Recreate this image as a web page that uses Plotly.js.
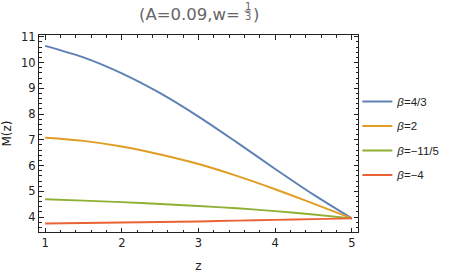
<!DOCTYPE html>
<html><head><meta charset="utf-8">
<script src="https://cdn.plot.ly/plotly-3.0.1.min.js"></script>
<style>html,body{margin:0;padding:0;background:#fff}</style>
</head><body><div id="chart" style="width:451px;height:274px"></div>
<script>
const z = [1, 1.5, 2, 2.5, 3, 3.5, 4, 4.5, 5];
const mBeta43 = [10.65, 10.2, 9.58, 8.81, 7.9, 6.9, 5.87, 4.87, 3.95];
const mBeta2 = [7.08, 6.96, 6.74, 6.43, 6.06, 5.6, 5.08, 4.52, 3.95];
const mBetaM115 = [4.69, 4.64, 4.58, 4.51, 4.43, 4.34, 4.23, 4.1, 3.95];
const mBetaM4 = [3.75, 3.77, 3.79, 3.81, 3.83, 3.86, 3.89, 3.92, 3.95];
const seriesNames = ['<i>β</i>=4/3', '<i>β</i>=2', '<i>β</i>=−11/5', '<i>β</i>=−4'];
const seriesValues = [mBeta43, mBeta2, mBetaM115, mBetaM4];
const colors = ['#5E81B5', '#E19C24', '#8FB032', '#EB6235'];

const traces = seriesValues.map((v, i) => ({
  x: z, y: v, type: 'scatter', mode: 'lines', name: seriesNames[i],
  legendgroup: 'g' + i,
  line: {color: colors[i], width: 1.9, shape: 'spline', smoothing: 0.9}
}));

const L = 39, R = 358, T = 35, B = 232;
const px = x => (x - L) / (R - L);
const py = y => (B - y) / (B - T);
const axisCommon = {
  showgrid: false, zeroline: false, showline: true, linecolor: '#222', linewidth: 1,
  mirror: 'ticks', ticks: 'inside', ticklen: 4.5, tickwidth: 1, tickcolor: '#222',
  tickfont: {family: 'DejaVu Sans', size: 11.5, color: '#222'},
  minor: {dtick: 0.2, ticks: 'inside', ticklen: 2.5, tickwidth: 1, tickcolor: '#222'}
};
const titleFont = {family: 'DejaVu Sans', size: 16.5, color: '#666'};
const layout = {
  width: 451, height: 274,
  margin: {l: L, r: 451 - R, t: T, b: 274 - B, autoexpand: false},
  paper_bgcolor: '#fff', plot_bgcolor: '#fff',
  showlegend: true,
  legend: {x: 0.998, xanchor: 'left', y: 0.475, yanchor: 'middle', tracegroupgap: 5.5,
    font: {family: 'Liberation Sans', size: 11.5, color: '#222'}, bgcolor: 'rgba(0,0,0,0)'},
  xaxis: Object.assign({}, axisCommon, {range: [0.92, 5.08], tick0: 1, dtick: 1,
    title: {text: 'z', standoff: 12, font: {family: 'DejaVu Sans', size: 12, color: '#222'}}}),
  yaxis: Object.assign({}, axisCommon, {range: [3.42, 11.07], tick0: 4, dtick: 1,
    title: {text: 'M(z)', standoff: 8, font: {family: 'DejaVu Sans', size: 12, color: '#222'}}}),
  annotations: [
    {xref: 'paper', yref: 'paper', x: px(241), y: py(14), xanchor: 'right', yanchor: 'middle',
     text: '(A=0.09,w=', showarrow: false, borderpad: 0, font: titleFont},
    {xref: 'paper', yref: 'paper', x: px(252), y: py(14), xanchor: 'left', yanchor: 'middle',
     text: ')', showarrow: false, borderpad: 0, font: titleFont},
    {xref: 'paper', yref: 'paper', x: px(247.5), y: py(6.5), xanchor: 'center', yanchor: 'middle',
     text: '1', showarrow: false, borderpad: 0, font: {family: 'DejaVu Sans', size: 10, color: '#666'}},
    {xref: 'paper', yref: 'paper', x: px(247.5), y: py(16), xanchor: 'center', yanchor: 'middle',
     text: '3', showarrow: false, borderpad: 0, font: {family: 'DejaVu Sans', size: 10, color: '#666'}}
  ],
  shapes: [
    {type: 'line', xref: 'paper', yref: 'paper', x0: px(244.5), x1: px(250.5), y0: py(11.2), y1: py(11.2),
     line: {color: '#666', width: 1}}
  ]
};
Plotly.newPlot('chart', traces, layout, {displayModeBar: false, staticPlot: true});
</script></body></html>
